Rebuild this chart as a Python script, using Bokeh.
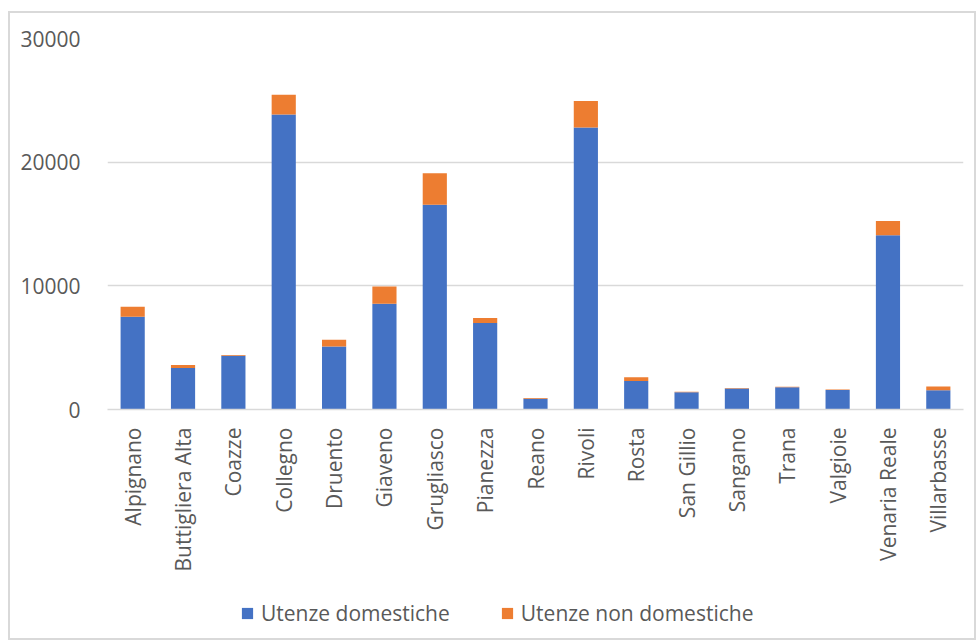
from bokeh.plotting import figure
from bokeh.models import (Range1d, FactorRange, FixedTicker, Legend, LegendItem,
                          ColumnDataSource)
from bokeh.layouts import column
from bokeh.embed import file_html
from bokeh.resources import INLINE

comuni = ["Alpignano", "Buttigliera Alta", "Coazze", "Collegno", "Druento", "Giaveno",
          "Grugliasco", "Pianezza", "Reano", "Rivoli", "Rosta", "San Gillio", "Sangano",
          "Trana", "Valgioie", "Venaria Reale", "Villarbasse"]
domestiche = [7500, 3350, 4350, 23850, 5100, 8550, 16550, 7000, 870, 22800, 2300, 1400,
              1700, 1800, 1580, 14100, 1550]
non_domestiche = [800, 250, 60, 1600, 550, 1400, 2550, 400, 60, 2150, 300, 30, 40, 40,
                  30, 1150, 300]
series = ["Utenze domestiche", "Utenze non domestiche"]
y_ticks = [0, 10000, 20000, 30000]

FONT = "Open Sans"
GRAY = "#595959"
COLORS = ["#4472C4", "#ED7D31"]

source = ColumnDataSource(data={"comune": comuni, "dom": domestiche, "nondom": non_domestiche})

# main chart
p = figure(x_range=FactorRange(*comuni, range_padding=0), y_range=Range1d(0, 30000),
           width=964, height=575, output_backend="svg", toolbar_location=None,
           min_border_left=97, min_border_top=25, min_border_right=11, min_border_bottom=179)

p.vbar_stack(["dom", "nondom"], x="comune", width=0.48, source=source,
             color=COLORS, line_color=None)

p.outline_line_color = None
p.xgrid.grid_line_color = None
p.ygrid.grid_line_color = "#d9d9d9"
p.ygrid.grid_line_width = 1.5

p.yaxis.ticker = FixedTicker(ticks=y_ticks)
p.yaxis.axis_line_color = None
p.yaxis.major_tick_line_color = None
p.yaxis.minor_tick_line_color = None
p.yaxis.major_label_standoff = 21
p.yaxis.major_label_text_font = FONT
p.yaxis.major_label_text_font_size = "21px"
p.yaxis.major_label_text_color = GRAY

p.xaxis.axis_line_color = "#d9d9d9"
p.xaxis.axis_line_width = 1.5
p.xaxis.major_tick_line_color = None
p.xaxis.minor_tick_line_color = None
p.xaxis.major_label_orientation = 3.14159265 / 2
p.xaxis.major_label_standoff = 12
p.xaxis.major_label_text_font = FONT
p.xaxis.major_label_text_font_size = "21px"
p.xaxis.major_label_text_color = GRAY

# legend strip (its bar renderers are hidden; only the legend shows)
lg = figure(x_range=FactorRange(*comuni, range_padding=0), y_range=Range1d(-2, -1),
            width=964, height=50, output_backend="svg", toolbar_location=None,
            x_axis_location=None, y_axis_location=None, min_border=0)
lg.outline_line_color = None
lg.grid.grid_line_color = None
lrs = lg.vbar_stack(["dom", "nondom"], x="comune", width=0.48, source=source,
                    color=COLORS, line_color=None)
for r in lrs:
    r.visible = False

legend = Legend(items=[LegendItem(label=series[0], renderers=[lrs[0]]),
                       LegendItem(label=series[1], renderers=[lrs[1]])],
                orientation="horizontal", location=(133, 11),
                label_text_font=FONT, label_text_font_size="21px", label_text_color=GRAY,
                glyph_width=14, glyph_height=14, label_standoff=7, spacing=50,
                padding=0, margin=0, border_line_color=None, background_fill_alpha=0,
                inactive_fill_alpha=0)
lg.add_layout(legend)

layout = column(p, lg, spacing=0)
layout.margin = (11, 0, 0, 8)
layout.styles = {"border": "2px solid #d9d9d9"}

open("out.html", "w").write(file_html(layout, INLINE))
